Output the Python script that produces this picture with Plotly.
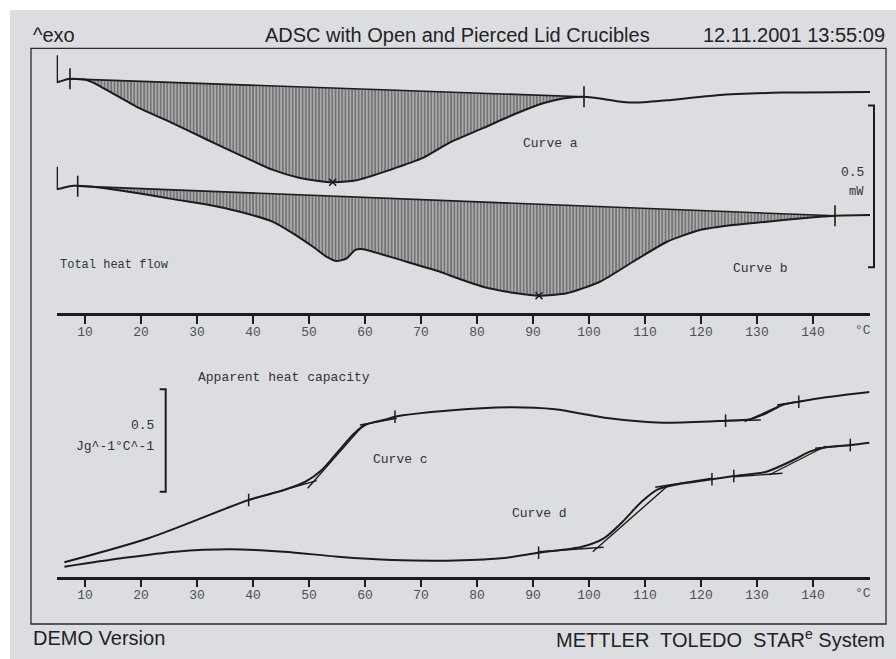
import plotly.graph_objects as go

# ---------------------------------------------------------------------------
# Figure geometry (pixels) and helpers to convert to paper coordinates
# ---------------------------------------------------------------------------
W, H = 896, 659


def px(x):
    return x / W


def py(y):
    return 1 - y / H


# ---------------------------------------------------------------------------
# Data
# ---------------------------------------------------------------------------
TICK_TEMPS = [10, 20, 30, 40, 50, 60, 70, 80, 90, 100, 110, 120, 130, 140]
MINOR_STEP = 10 / 6
T_RANGE = [4.95, 150.18]

# Total heat flow, curve a (open crucible), mW (offset for display)
TEMP_A = [5.0, 5.0, 5.66, 6.96, 7.86, 10.30, 11.48, 19.82, 25.71, 31.73, 37.68,
          43.57, 48.39, 53.16, 54.23, 58.52, 64.46, 70.36, 75.18, 81.07, 87.09,
          91.79, 95.36, 99.11, 101.96, 106.07, 108.57, 113.93, 122.86, 134.64,
          150.18]
HF_A = [0.797, 0.714, 0.717, 0.724, 0.725, 0.721, 0.713, 0.633, 0.587, 0.537,
        0.489, 0.443, 0.418, 0.406, 0.405, 0.411, 0.443, 0.480, 0.528, 0.572,
        0.618, 0.649, 0.664, 0.669, 0.664, 0.653, 0.651, 0.658, 0.674, 0.682,
        0.684]
BASE_A_T = [7.32, 99.11]
BASE_A_HF = [0.7245, 0.669]
PEAK_A_T = [54.23]
PEAK_A_HF = [0.405]

# Total heat flow, curve b (pierced lid crucible), mW (offset for display)
TEMP_B = [5.0, 5.0, 5.66, 7.91, 10.89, 13.88, 19.82, 25.71, 31.73, 37.68,
          43.57, 47.14, 50.71, 53.16, 54.95, 56.73, 58.21, 59.41, 61.43, 67.45,
          73.39, 75.18, 81.07, 87.09, 91.07, 96.02, 101.96, 107.86, 113.93,
          119.82, 125.71, 131.79, 137.68, 143.93, 150.18]
HF_B = [0.4525, 0.3836, 0.3858, 0.3938, 0.3920, 0.3858, 0.3704, 0.3528, 0.3364,
        0.3136, 0.2827, 0.2469, 0.2056, 0.1747, 0.1614, 0.1698, 0.1954, 0.1985,
        0.1901, 0.1593, 0.1284, 0.1167, 0.0821, 0.0617, 0.0543, 0.0617, 0.0975,
        0.1593, 0.2210, 0.2571, 0.2725, 0.2827, 0.2932, 0.3012, 0.3034]
BASE_B_T = [8.70, 143.93]
BASE_B_HF = [0.3929, 0.3012]
PEAK_B_T = [91.07]
PEAK_B_HF = [0.0543]

HF_SCALE_BAR = [0.142, 0.642]          # 0.5 mW

# Apparent heat capacity, curve c, J/(g K) (offset for display)
TEMP_C = [6.32, 21.32, 39.23, 45.54, 49.39, 52.29, 55.18, 58.11, 60.04, 63.91,
          65.36, 74.55, 86.16, 93.91, 103.57, 113.27, 124.39, 128.75, 131.66,
          134.55, 137.46, 142.32, 150.05]
CP_C = [0.0703, 0.1875, 0.3745, 0.4233, 0.4639, 0.5210, 0.6104, 0.7002, 0.7407,
        0.7686, 0.7813, 0.8105, 0.8271, 0.8174, 0.7734, 0.7520, 0.7617, 0.7686,
        0.7979, 0.8384, 0.8545, 0.8760, 0.9019]

# Apparent heat capacity, curve d, J/(g K) (offset for display)
TEMP_D = [6.32, 16.48, 26.16, 35.84, 45.52, 55.18, 64.88, 74.55, 84.23, 91.0,
          98.75, 102.63, 106.0, 109.39, 112.30, 115.20, 121.96, 125.86, 131.66,
          136.5, 139.41, 142.32, 146.66, 150.05]
CP_D = [0.0488, 0.0898, 0.1221, 0.1338, 0.1221, 0.0977, 0.0815, 0.0781, 0.0898,
        0.1172, 0.1465, 0.1875, 0.2686, 0.3662, 0.4268, 0.4478, 0.4756, 0.4917,
        0.5127, 0.5698, 0.6104, 0.6318, 0.6431, 0.6543]

# Glass transition evaluation tangents (pairs of end points, None separates)
TAN_C_T = [39.23, 51.38, None, 49.77, 59.70, None, 59.11, 65.66, None,
           124.39, 130.68, None, 127.79, 135.04, None, 133.59, 138.43]
TAN_C_CP = [0.3745, 0.4688, None, 0.4316, 0.7407, None, 0.7407, 0.7734, None,
            0.7617, 0.7651, None, 0.7568, 0.8467, None, 0.8384, 0.8594]
TAN_D_T = [91.0, 102.63, None, 100.68, 114.23, None, 111.82, 121.98, None,
           125.86, 134.55, None, 132.14, 142.32, None, 140.38, 147.14]
TAN_D_CP = [0.1221, 0.1436, None, 0.1221, 0.4478, None, 0.4365, 0.4805, None,
            0.4883, 0.5049, None, 0.4966, 0.6382, None, 0.6270, 0.6431]

# Evaluation limit flags on the cp curves
FLAG_T = [39.23, 65.36, 124.39, 137.46, 91.0, 121.96, 125.86, 146.66]
FLAG_CP = [0.3745, 0.7813, 0.7617, 0.8545, 0.1172, 0.4756, 0.4917, 0.6431]

CP_SCALE_BAR = [0.415, 0.915]          # 0.5 J/(g K)

# ---------------------------------------------------------------------------
# Styling
# ---------------------------------------------------------------------------
INK = "#1c1c1c"
PAGE = "#dcdde0"
MONO = "Liberation Mono, Courier New, monospace"
SANS = "Liberation Sans, Arial, sans-serif"
LW = 2.0

fig = go.Figure()


def hatch_polygon(t, v, base_t, base_v):
    inner = [(a, b) for a, b in zip(t, v) if base_t[0] < a < base_t[1]]
    xs = [base_t[0]] + [p[0] for p in inner] + [base_t[1]]
    ys = [base_v[0]] + [p[1] for p in inner] + [base_v[1]]
    return xs, ys


def heat_flow_curve(t, v, base_t, base_v, peak_t, peak_v):
    hx, hy = hatch_polygon(t, v, base_t, base_v)
    fig.add_trace(go.Scatter(
        x=hx, y=hy, mode="none", fill="toself", fillcolor="rgba(0,0,0,0)",
        line=dict(shape="spline", smoothing=0.6),
        fillpattern=dict(shape="|", size=3.3, solidity=0.75, fgcolor="#0d0d0d",
                         bgcolor="rgba(0,0,0,0)"),
        xaxis="x", yaxis="y", hoverinfo="skip"))
    fig.add_trace(go.Scatter(
        x=base_t, y=base_v, mode="lines", line=dict(color=INK, width=1.6),
        xaxis="x", yaxis="y"))
    # start-up hook (sharp corners) and smooth signal
    fig.add_trace(go.Scatter(
        x=t[:3], y=v[:3], mode="lines", line=dict(color=INK, width=LW),
        xaxis="x", yaxis="y"))
    fig.add_trace(go.Scatter(
        x=t[2:], y=v[2:], mode="lines",
        line=dict(color=INK, width=LW, shape="spline", smoothing=0.6),
        xaxis="x", yaxis="y"))
    fig.add_trace(go.Scatter(
        x=base_t, y=base_v, mode="markers",
        marker=dict(symbol="line-ns", size=15, line=dict(color=INK, width=1.6)),
        xaxis="x", yaxis="y"))
    fig.add_trace(go.Scatter(
        x=peak_t, y=peak_v, mode="markers",
        marker=dict(symbol="x-thin", size=7, line=dict(color=INK, width=1.6)),
        xaxis="x", yaxis="y"))


heat_flow_curve(TEMP_A, HF_A, BASE_A_T, BASE_A_HF, PEAK_A_T, PEAK_A_HF)
heat_flow_curve(TEMP_B, HF_B, BASE_B_T, BASE_B_HF, PEAK_B_T, PEAK_B_HF)

for t, v, tt, tv in [(TEMP_C, CP_C, TAN_C_T, TAN_C_CP),
                     (TEMP_D, CP_D, TAN_D_T, TAN_D_CP)]:
    fig.add_trace(go.Scatter(
        x=tt, y=tv, mode="lines", line=dict(color=INK, width=1.4),
        connectgaps=False, xaxis="x2", yaxis="y2"))
    fig.add_trace(go.Scatter(
        x=t, y=v, mode="lines",
        line=dict(color=INK, width=LW, shape="spline", smoothing=0.8),
        xaxis="x2", yaxis="y2"))

fig.add_trace(go.Scatter(
    x=FLAG_T, y=FLAG_CP, mode="markers",
    marker=dict(symbol="line-ns", size=9, line=dict(color=INK, width=1.5)),
    xaxis="x2", yaxis="y2"))

# ---------------------------------------------------------------------------
# Axes: labelled major ticks, plus an overlaid axis carrying the minor ticks
# ---------------------------------------------------------------------------
n_minor = int((T_RANGE[1] - T_RANGE[0]) / MINOR_STEP) + 1
minor_vals = [T_RANGE[0] + 0.05 + i * MINOR_STEP for i in range(n_minor)]
minor_vals = [m for m in minor_vals
              if all(abs(m - major) > 0.3 for major in TICK_TEMPS)]

x_dom = [px(56.7), px(870)]
major_style = dict(
    range=T_RANGE, domain=x_dom, showgrid=False, zeroline=False,
    showline=True, linecolor=INK, linewidth=2.5,
    ticks="outside", ticklen=8, tickwidth=2, tickcolor=INK,
    tickmode="array", tickvals=TICK_TEMPS,
    ticktext=[str(v) for v in TICK_TEMPS],
    tickfont=dict(family=MONO, size=13, color="#505050"),
    ticklabelstandoff=-4,
    fixedrange=True,
)
minor_style = dict(
    range=T_RANGE, domain=x_dom, showgrid=False, zeroline=False,
    showline=False, ticks="outside", ticklen=5, tickwidth=1.8, tickcolor=INK,
    tickmode="array", tickvals=minor_vals, showticklabels=False,
    fixedrange=True,
)

HF_RANGE = [0, 265.3 / 324]
CP_RANGE = [0, 236.7 / 204.8]

fig.update_layout(
    width=W, height=H,
    margin=dict(l=0, r=0, t=0, b=0),
    paper_bgcolor="white",
    plot_bgcolor="rgba(0,0,0,0)",
    showlegend=False,
    hovermode=False,
    xaxis=dict(anchor="y", **major_style),
    yaxis=dict(domain=[py(313.3), py(48.3)], range=HF_RANGE, visible=False,
               fixedrange=True),
    xaxis2=dict(anchor="y2", **major_style),
    yaxis2=dict(domain=[py(576.7), py(340)], range=CP_RANGE, visible=False,
                fixedrange=True),
    xaxis3=dict(anchor="y", overlaying="x", **minor_style),
    xaxis4=dict(anchor="y2", overlaying="x2", **minor_style),
)

# ---------------------------------------------------------------------------
# Page background, frame and scale bars
# ---------------------------------------------------------------------------
shapes = [
    dict(type="rect", xref="paper", yref="paper", layer="below",
         x0=px(10), x1=1, y0=0, y1=py(10), fillcolor=PAGE,
         line=dict(width=0)),
    dict(type="rect", xref="paper", yref="paper", layer="above",
         x0=px(31), x1=px(886), y0=py(624), y1=py(48.3),
         line=dict(color="#2a2a2a", width=1.3)),
]


def scale_bar(x_right, width, yref, y_lo, y_hi):
    xl = px(x_right - width)
    xr = px(x_right)
    return dict(type="path", xref="paper", yref=yref, layer="above",
                path=f"M {xl},{y_hi} L {xr},{y_hi} L {xr},{y_lo} L {xl},{y_lo}",
                line=dict(color=INK, width=2))


shapes.append(scale_bar(874, 6, "y", HF_SCALE_BAR[0], HF_SCALE_BAR[1]))
shapes.append(scale_bar(165.7, 6, "y2", CP_SCALE_BAR[0], CP_SCALE_BAR[1]))
fig.update_layout(shapes=shapes)

# ---------------------------------------------------------------------------
# Text
# ---------------------------------------------------------------------------
ann = []


def label(text, x, y, anchor="left", size=13, family=MONO, color="#333333"):
    ann.append(dict(text=text, x=px(x), y=py(y), xref="paper", yref="paper",
                    xanchor=anchor, yanchor="middle", showarrow=False,
                    font=dict(family=family, size=size, color=color)))


# header / footer
label("^exo", 31, 35, "left", 20, SANS, "#222222")
label("ADSC with Open and Pierced Lid Crucibles", 457, 35, "center", 20, SANS,
      "#222222")
label("12.11.2001 13:55:09", 887, 35, "right", 20, SANS, "#222222")
label("DEMO Version", 31, 638, "left", 20, SANS, "#222222")
label("METTLER  TOLEDO  STAR<sup>e</sup> System", 887, 638, "right", 20, SANS,
      "#222222")

# top panel
label("Curve a", 550, 143.5, "center")
label("Curve b", 760, 268, "center")
label("Total heat flow", 58, 264.5, "left", 12)
label("0.5", 866, 173, "right")
label("mW", 866, 192, "right", 12)
label("°C", 863, 330, "center", 13, MONO, "#505050")

# bottom panel
label("Apparent heat capacity", 196, 377, "left")
label("Curve c", 400, 459.5, "center")
label("Curve d", 539, 513, "center")
label("0.5", 156, 426, "right")
label("Jg^-1°C^-1", 156, 446, "right")
label("°C", 863, 593.5, "center", 13, MONO, "#505050")

fig.update_layout(annotations=ann)

fig.write_html("out.html")
